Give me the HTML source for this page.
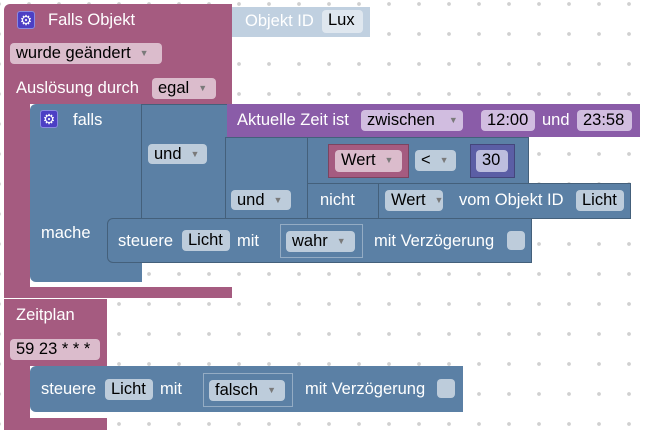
<!DOCTYPE html>
<html><head><meta charset="utf-8"><style>
html,body{margin:0;padding:0}
body{width:646px;height:439px;position:relative;overflow:hidden;background:#fff;
background-image:radial-gradient(circle at 15px 15px,#d0d0d0 1.6px,transparent 2.2px);
background-size:30px 30px;background-position:14px -11px;
font-family:"Liberation Sans",Arial,sans-serif;font-size:16.5px}
.b{position:absolute}
.m{background:#a55b80}
.u{background:#5b80a5}
.p{background:#8a5ca8}
.t{position:absolute;color:#fff;white-space:nowrap;line-height:18px}
.f{position:absolute;border-radius:4px;color:#000;white-space:nowrap;line-height:21px;box-sizing:border-box;padding-left:6px;overflow:hidden}
.fm{background:#dbbccc}
.fu{background:#bdccdb}
.fp{background:#d1bde0}
.ar{font-size:9px;color:#7a7a7a;margin-left:9px;vertical-align:2px}
.g{position:absolute;width:18px;height:18px;background:#4c3fc4;border-radius:3px;border:1px solid #8a8ae0;box-sizing:border-box;color:#fff;font-size:14px;line-height:16px;text-align:center}
.bd{border:1px solid rgba(255,255,255,.35);box-sizing:border-box}
.bk{border:1px solid rgba(0,0,0,.25);box-sizing:border-box}
</style></head><body>
<!-- main maroon -->
<div class="b m" style="left:4px;top:4px;width:228px;height:100px;border-radius:6px 0 0 0"></div>
<div class="b m" style="left:4px;top:90px;width:26px;height:208px"></div>
<div class="b m" style="left:4px;top:287px;width:228px;height:11px"></div>
<div class="g" style="left:17px;top:11px">⚙</div>
<div class="t" style="left:48px;top:11px">Falls Objekt</div>
<div class="b" style="left:232px;top:7px;width:138px;height:30px;background:#c0d0e0"></div>
<div class="t" style="left:245px;top:12px">Objekt ID</div>
<div class="f" style="left:322px;top:10px;width:41px;height:23px;background:#dfe7ef">Lux</div>
<div class="f fm" style="left:10px;top:43px;width:152px;height:21px">wurde geändert<span class="ar">▼</span></div>
<div class="t" style="left:16px;top:79px">Auslösung durch</div>
<div class="f fm" style="left:152px;top:78px;width:64px;height:21px">egal<span class="ar">▼</span></div>

<!-- falls block -->
<div class="b u" style="left:30px;top:104px;width:112px;height:178px;border-radius:6px 0 0 6px"></div>
<div class="g" style="left:40px;top:110px">⚙</div>
<div class="t" style="left:73px;top:111px">falls</div>
<div class="t" style="left:41px;top:224px">mache</div>
<div class="b u bk" style="left:141px;top:104px;width:87px;height:115px"></div>
<div class="f fu" style="left:148px;top:144px;width:59px;height:20px;line-height:20px">und<span class="ar">▼</span></div>
<div class="b p" style="left:227px;top:104px;width:413px;height:33px"></div>
<div class="t" style="left:237px;top:111px">Aktuelle Zeit ist</div>
<div class="f fp" style="left:361px;top:110px;width:102px;height:21px">zwischen<span class="ar" style="margin-left:14px">▼</span></div>
<div class="f fp" style="left:481px;top:110px;width:54px;height:21px">12:00</div>
<div class="t" style="left:542px;top:111px">und</div>
<div class="f fp" style="left:577px;top:110px;width:55px;height:21px">23:58</div>
<div class="b u bk" style="left:225px;top:137px;width:304px;height:82px"></div>
<div class="f fu" style="left:231px;top:190px;width:60px;height:20px;line-height:20px">und<span class="ar">▼</span></div>
<div class="b u bk" style="left:307px;top:137px;width:222px;height:47px"></div>
<div class="b m bk" style="left:328px;top:144px;width:81px;height:34px"></div>
<div class="f fm" style="left:335px;top:150px;width:67px;height:22px">Wert<span class="ar">▼</span></div>
<div class="f fu" style="left:415px;top:150px;width:41px;height:21px">&lt;<span class="ar">▼</span></div>
<div class="b bk" style="left:470px;top:144px;width:45px;height:34px;background:#5b5ea5"></div>
<div class="f" style="left:476px;top:150px;width:32px;height:22px;background:#bdbede">30</div>
<div class="b u bk" style="left:307px;top:183px;width:324px;height:36px"></div>
<div class="t" style="left:320px;top:191px">nicht</div>
<div class="b u bk" style="left:378px;top:183px;width:253px;height:36px"></div>
<div class="f fu" style="left:385px;top:190px;width:58px;height:21px">Wert<span class="ar">▼</span></div>
<div class="t" style="left:459px;top:191px">vom Objekt ID</div>
<div class="f fu" style="left:576px;top:190px;width:48px;height:21px">Licht</div>
<div class="b u bk" style="left:107px;top:218px;width:425px;height:45px;border-radius:6px 0 0 6px"></div>
<div class="t" style="left:118px;top:232px">steuere</div>
<div class="f fu" style="left:182px;top:230px;width:48px;height:21px">Licht</div>
<div class="t" style="left:237px;top:232px">mit</div>
<div class="b u bd" style="left:280px;top:224px;width:83px;height:34px"></div>
<div class="f fu" style="left:286px;top:231px;width:69px;height:21px">wahr<span class="ar">▼</span></div>
<div class="t" style="left:374px;top:232px">mit Verzögerung</div>
<div class="b" style="left:507px;top:231px;width:18px;height:19px;border-radius:4px;background:#bdccdb"></div>

<!-- Zeitplan -->
<div class="b m" style="left:4px;top:299px;width:103px;height:67px"></div>
<div class="b m" style="left:4px;top:360px;width:26px;height:70px;border-radius:0 0 0 6px"></div>
<div class="b m" style="left:4px;top:418px;width:103px;height:12px"></div>
<div class="t" style="left:16px;top:306px">Zeitplan</div>
<div class="f fm" style="left:10px;top:339px;width:90px;height:21px">59 23 * * *</div>
<div class="b u" style="left:30px;top:366px;width:433px;height:46px;border-radius:6px 0 0 6px"></div>
<div class="t" style="left:41px;top:380px">steuere</div>
<div class="f fu" style="left:105px;top:379px;width:48px;height:21px">Licht</div>
<div class="t" style="left:160px;top:380px">mit</div>
<div class="b u bd" style="left:203px;top:373px;width:90px;height:34px"></div>
<div class="f fu" style="left:209px;top:380px;width:76px;height:21px">falsch<span class="ar">▼</span></div>
<div class="t" style="left:305px;top:380px">mit Verzögerung</div>
<div class="b" style="left:437px;top:379px;width:18px;height:19px;border-radius:4px;background:#bdccdb"></div>
</body></html>
